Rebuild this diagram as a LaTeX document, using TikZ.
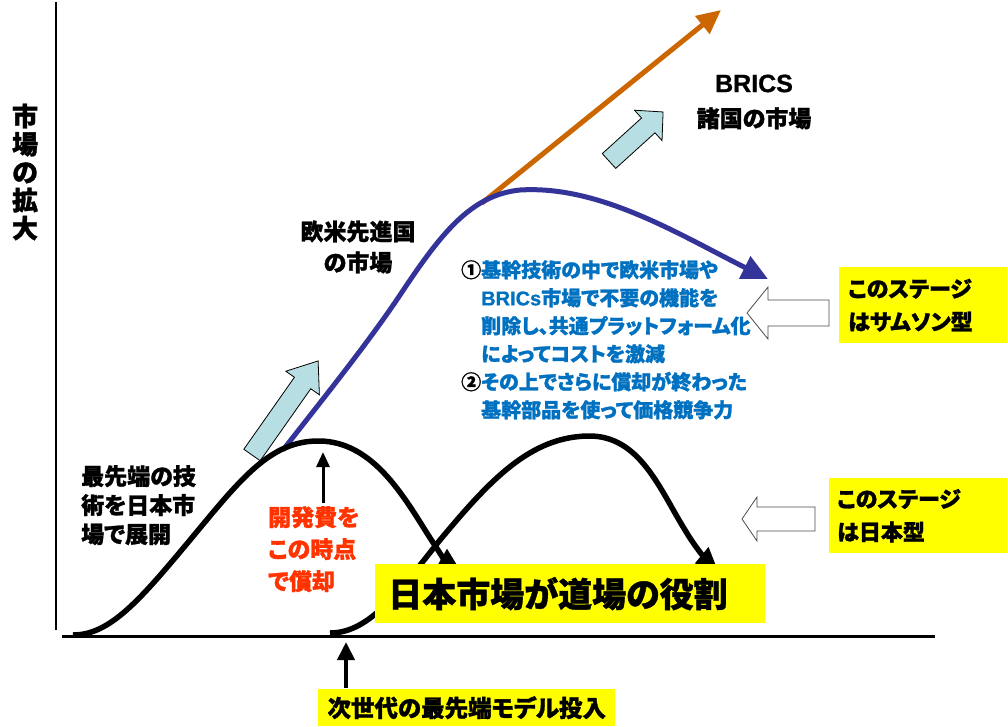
\documentclass[tikz,border=0pt]{standalone}
\usepackage{fontspec}
\setmainfont{Noto Sans CJK JP}[RawFeature=+palt, BoldFeatures={FakeBold=1.2}]
\newfontfamily\lat{Liberation Sans}[BoldFeatures={FakeBold=0.8}]
\usetikzlibrary{arrows.meta}
\definecolor{myblue}{RGB}{51,51,153}
\definecolor{myorange}{RGB}{204,102,0}
\definecolor{txtblue}{RGB}{0,112,192}
\definecolor{lightcyan}{RGB}{183,222,226}
\definecolor{myred}{RGB}{255,51,0}
\definecolor{myyellow}{RGB}{255,255,0}
\tikzset{
  curveline/.style={line width=5.5pt, -{Triangle[length=20pt,width=20pt]}},
  blockcyan/.style={fill=lightcyan, draw=black, line width=0.8pt, line join=miter},
  blockwhite/.style={fill=white, draw=black!70, line width=0.8pt, line join=miter},
  ybox/.style={fill=myyellow, inner sep=0pt, align=left},
  lbl/.style={inner sep=0pt, font=\bfseries},
}
\begin{document}
\begin{tikzpicture}[x=1pt,y=-1pt]
\useasboundingbox[fill=white] (0,0) rectangle (1008,726);

% axes
\coordinate (ytop) at (56,2);
\coordinate (ybot) at (56,630);
\coordinate (xl) at (62,636);
\coordinate (xr) at (935,636);
\draw[line width=1.2pt] (ytop) -- (ybot);
\draw[line width=3pt] (xl) -- (xr);

% y label
\node[lbl, align=center, font=\bfseries\fontsize{26}{28}\selectfont] (ylab) at (25,172) {市\\場\\の\\拡\\大};

% light blue block arrows
\begin{scope}[shift={(252,455)}, rotate=54.9]
  \draw[blockcyan] (0,-10) -- (88,-10) -- (88,-20.5) -- (115,0) -- (88,20.5) -- (88,10) -- (0,10) -- cycle;
\end{scope}
\begin{scope}[shift={(609,161)}, rotate=42.2]
  \draw[blockcyan] (0,-10) -- (53,-10) -- (53,-20.5) -- (73,0) -- (53,20.5) -- (53,10) -- (0,10) -- cycle;
\end{scope}

% orange line
\coordinate (o1) at (482,203);
\coordinate (o2) at (721,10);
\draw[myorange, line width=5pt, -{Triangle[length=24pt,width=22pt]}] (o1) -- (o2);

% blue curve
\coordinate (b0) at (283,450);
\coordinate (b1) at (400,295);
\coordinate (b2) at (520,190);
\coordinate (b3) at (768,279);
\draw[myblue, line width=5pt, -{Triangle[length=26pt,width=24pt]}]
  (b0) .. controls (330,390) and (370,340) .. (b1)
       .. controls (440,235) and (470,195) .. (b2)
       .. controls (600,185) and (680,235) .. (b3);

% black curves
\coordinate (c0) at (73,635);
\coordinate (c1) at (190,540);
\coordinate (c2) at (320,441);
\coordinate (c3) at (425,530);
\coordinate (c4) at (459,568);
\draw[curveline] (c0) .. controls (110,635) and (140,600) .. (c1)
  .. controls (240,480) and (270,440) .. (c2)
  .. controls (370,442) and (400,490) .. (c3)
  .. controls (435,546) and (445,560) .. (c4);

\coordinate (d0) at (330,633);
\coordinate (d1) at (440,540);
\coordinate (d2) at (588,436);
\coordinate (d3) at (685,530);
\coordinate (d4) at (717,568);
\draw[curveline] (d0) .. controls (370,633) and (400,590) .. (d1)
  .. controls (490,480) and (530,437) .. (d2)
  .. controls (640,435) and (660,490) .. (d3)
  .. controls (695,547) and (705,558) .. (d4);

% thin up arrows
\coordinate (u1b) at (323,503);
\coordinate (u1t) at (323,452);
\draw[line width=3pt, -{Triangle[length=15pt,width=13pt]}] (u1b) -- (u1t);
\coordinate (u2b) at (346,688);
\coordinate (u2t) at (346,642);
\draw[line width=4pt, -{Triangle[length=18pt,width=17pt]}] (u2b) -- (u2t);

% white block arrows
\draw[blockwhite] (829,300) -- (768,300) -- (768,287) -- (747,313) -- (768,339) -- (768,326) -- (829,326) -- cycle;
\draw[blockwhite] (815,507) -- (757,507) -- (757,497) -- (742,519) -- (757,541) -- (757,531) -- (815,531) -- cycle;

% texts
\node[lbl, align=center, font=\bfseries\fontsize{23}{31}\selectfont] (oubei) at (358,247) {欧米先進国\\の市場};
\node[lbl, align=center, font=\bfseries\fontsize{23}{35}\selectfont] (brics) at (754,102) {{\lat\bfseries\fontsize{25}{35}\selectfont BRICS}\\諸国の市場};
\node[lbl, align=left, anchor=north west, font=\bfseries\fontsize{23}{29}\selectfont] (saisentan) at (81,465) {最先端の技\\術を日本市\\場で展開};
\node[lbl, align=left, anchor=north west, text=myred, font=\bfseries\fontsize{23}{32}\selectfont] (kaihatsu) at (268,506) {開発費を\\この時点\\で償却};
\node[lbl, align=left, anchor=north west, text=txtblue, font=\bfseries\fontsize{20}{28}\selectfont] (blue) at (461,260)
 {{\color{black}①}基幹技術の中で欧米市場や\\
  \phantom{①}{\lat\bfseries BRICs}市場で不要の機能を\\
  \phantom{①}削除し、共通プラットフォーム化\\
  \phantom{①}によってコストを激減\\
  {\color{black}②}その上でさらに償却が終わった\\
  \phantom{①}基幹部品を使って価格競争力};

% yellow boxes
\node[ybox, anchor=north west, minimum width=168pt, minimum height=76pt, text width=150pt, font=\bfseries\fontsize{22}{33}\selectfont] (samsung) at (839,267) {このステージ\\はサムソン型};
\node[ybox, anchor=north west, minimum width=178pt, minimum height=75pt, text width=162pt, font=\bfseries\fontsize{22}{33}\selectfont] (nihongata) at (829,478) {このステージ\\は日本型};
\node[ybox, anchor=north west, minimum width=390pt, minimum height=59pt, text width=364pt, font=\bfseries\fontsize{34}{40}\selectfont] (dojo) at (375,564) {日本市場が道場の役割};
\node[ybox, anchor=north west, minimum width=297pt, minimum height=37pt, text width=282pt, align=center, font=\bfseries\fontsize{23.5}{28}\selectfont] (jisedai) at (318,689) {次世代の最先端モデル投入};
\end{tikzpicture}
\end{document}
